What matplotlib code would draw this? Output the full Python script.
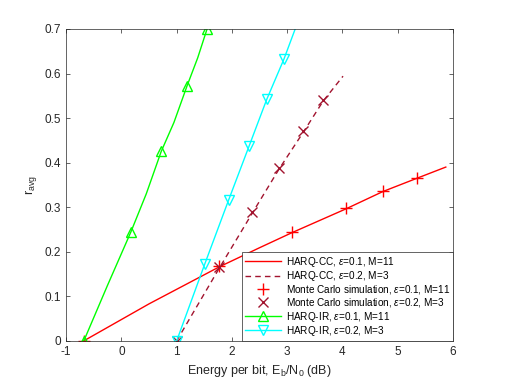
# average rate vs Eb/N0 for HARQ-CC and HARQ-IR

import matplotlib.pyplot as plt

plt.rcParams['font.family'] = ['Liberation Sans', 'DejaVu Sans']
plt.rcParams['mathtext.fontset'] = 'custom'
plt.rcParams['mathtext.rm'] = 'Liberation Sans'
plt.rcParams['mathtext.it'] = 'Liberation Sans:italic'
plt.rcParams['axes.unicode_minus'] = False

# HARQ-CC theory curves
cc1_x = [-0.68, 0.5, 1.77, 2.5, 3.09, 4.06, 4.73, 5.35, 5.87]
cc1_y = [0.0, 0.083, 0.166, 0.209, 0.243, 0.296, 0.335, 0.365, 0.390]
cc2_x = [1.0, 1.77, 2.37, 2.85, 3.29, 3.65, 4.01]
cc2_y = [0.0, 0.163, 0.287, 0.385, 0.468, 0.538, 0.594]

# Monte Carlo points
mc1_x = [-0.68, 1.77, 3.09, 4.06, 4.73, 5.35]
mc1_y = [0.0, 0.167, 0.245, 0.298, 0.337, 0.366]
mc2_x = [1.0, 1.77, 2.37, 2.85, 3.29, 3.65]
mc2_y = [0.0, 0.165, 0.289, 0.388, 0.470, 0.541]

# HARQ-IR
ir1_x = [-0.68, -0.25, 0.17, 0.45, 0.72, 0.95, 1.19, 1.38, 1.55]
ir1_y = [0.0, 0.125, 0.244, 0.33, 0.425, 0.49, 0.573, 0.635, 0.70]
ir2_x = [1.0, 1.51, 1.94, 2.31, 2.63, 2.94, 3.25]
ir2_y = [0.0, 0.173, 0.316, 0.437, 0.542, 0.632, 0.735]
ir1_mx = [-0.68, 0.17, 0.72, 1.19, 1.55]
ir1_my = [0.0, 0.244, 0.425, 0.573, 0.70]
ir2_mx = ir2_x[:-1]
ir2_my = ir2_y[:-1]

red = '#FF0000'
maroon = '#A2142F'
green = '#00FF00'
cyan = '#00FFFF'

fig = plt.figure(figsize=(5.05, 3.86), dpi=100)
ax = fig.add_axes([0.131, 0.117, 0.766, 0.808])

ax.plot(cc1_x, cc1_y, '-', color=red, lw=1.0, label='HARQ-CC, $\\epsilon$=0.1, M=11')
ax.plot(cc2_x, cc2_y, '--', color=maroon, lw=1.0, dashes=(4, 3),
        label='HARQ-CC, $\\epsilon$=0.2, M=3')
ax.plot(mc1_x, mc1_y, '+', color=red, ms=8, mew=1.0, linestyle='none',
        label='Monte Carlo simulation, $\\epsilon$=0.1, M=11')
ax.plot(mc2_x, mc2_y, 'x', color=maroon, ms=7, mew=1.0, linestyle='none',
        label='Monte Carlo simulation, $\\epsilon$=0.2, M=3')

ax.plot(ir1_x, ir1_y, '-', color=green, lw=1.0)
ax.plot(ir1_mx, ir1_my, '^', color=green, ms=7, mfc='none', mew=1.0, linestyle='none')
ax.plot(ir2_x, ir2_y, '-', color=cyan, lw=1.0)
ax.plot(ir2_mx, ir2_my, 'v', color=cyan, ms=7, mfc='none', mew=1.0, linestyle='none')
# legend proxies for line+marker series
ax.plot([], [], '-^', color=green, ms=7, mfc='none', mew=1.0, lw=1.0,
        label='HARQ-IR, $\\epsilon$=0.1, M=11')
ax.plot([], [], '-v', color=cyan, ms=7, mfc='none', mew=1.0, lw=1.0,
        label='HARQ-IR, $\\epsilon$=0.2, M=3')

ax.set_xlim(-1, 6)
ax.set_ylim(0, 0.7)
ax.set_xticks(range(-1, 7))
ax.set_yticks([0, 0.1, 0.2, 0.3, 0.4, 0.5, 0.6, 0.7])
ax.set_yticklabels(['0', '0.1', '0.2', '0.3', '0.4', '0.5', '0.6', '0.7'])
ax.tick_params(direction='in', top=True, right=True, labelsize=8.5,
               colors='#262626', length=3, width=0.5)
for s in ax.spines.values():
    s.set_color('#262626')
    s.set_linewidth(0.5)

ax.set_xlabel('Energy per bit, E$_\\mathrm{b}$/N$_0$ (dB)', fontsize=9, color='#262626')
ax.set_ylabel('r$_\\mathrm{avg}$', fontsize=9, color='#262626')

leg = ax.legend(loc='lower right', fontsize=7.2, borderaxespad=0, handlelength=3.6,
                fancybox=False, framealpha=1, edgecolor='#262626',
                labelspacing=0.02, borderpad=0.3, handletextpad=0.5)
leg.get_frame().set_linewidth(0.5)

plt.savefig('out.png', dpi=100)
